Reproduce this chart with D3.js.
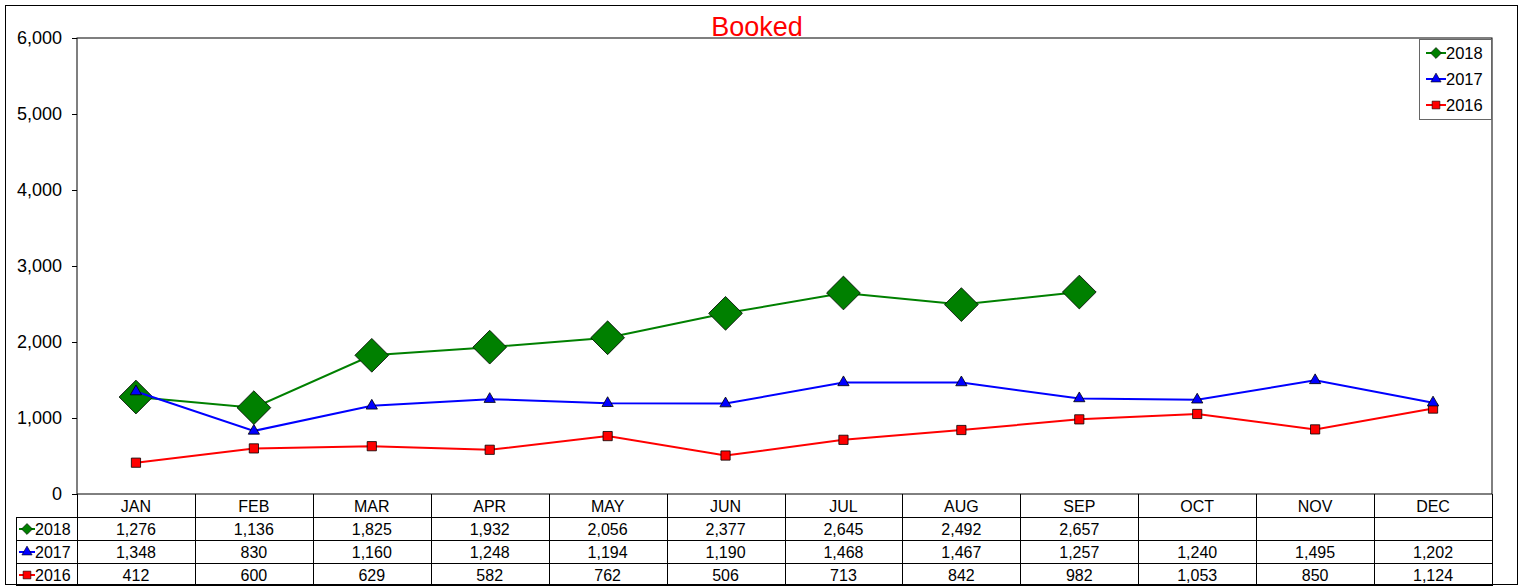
<!DOCTYPE html>
<html>
<head>
<meta charset="utf-8">
<script src="https://cdn.jsdelivr.net/npm/d3@7"></script>
<style>
  body { margin: 0; background: #fff; }
  svg { font-family: "Liberation Sans", Arial, sans-serif; }
</style>
</head>
<body>
<svg id="chart" width="1525" height="586"></svg>
<script>
// data
const months = ["JAN", "FEB", "MAR", "APR", "MAY", "JUN", "JUL", "AUG", "SEP", "OCT", "NOV", "DEC"];
const booked2018 = [1276, 1136, 1825, 1932, 2056, 2377, 2645, 2492, 2657, null, null, null];
const booked2017 = [1348, 830, 1160, 1248, 1194, 1190, 1468, 1467, 1257, 1240, 1495, 1202];
const booked2016 = [412, 600, 629, 582, 762, 506, 713, 842, 982, 1053, 850, 1124];
const yTicks = [0, 1000, 2000, 3000, 4000, 5000, 6000];

// square rotated 45deg, like the Excel diamond marker
const diamond = {
  draw(ctx, size) {
    const r = Math.sqrt(size / 2);
    ctx.moveTo(0, -r);
    ctx.lineTo(r, 0);
    ctx.lineTo(0, r);
    ctx.lineTo(-r, 0);
    ctx.closePath();
  }
};

const series = [
  { name: "2018", values: booked2018, color: "#008000", symbol: diamond, size: 570, mini: 60 },
  { name: "2017", values: booked2017, color: "#0000ff", symbol: d3.symbolTriangle, size: 55, mini: 45 },
  { name: "2016", values: booked2016, color: "#ff0000", symbol: d3.symbolSquare, size: 85, mini: 60 }
];

const svg = d3.select("#chart");
const plotL = 77, plotR = 1492, plotT = 38, plotB = 494;
const rowH = 23;

const x = d3.scaleBand().domain(months).range([plotL, plotR]);
const y = d3.scaleLinear().domain([0, 6000]).range([plotB, plotT]);
const fmt = d3.format(",");

// outer border
svg.append("rect")
  .attr("x", 5.5).attr("y", 5.5).attr("width", 1512).attr("height", 579)
  .attr("fill", "none").attr("stroke", "#000");

// plot area
svg.append("rect")
  .attr("x", plotL).attr("y", plotT).attr("width", plotR - plotL).attr("height", plotB - plotT)
  .attr("fill", "none").attr("stroke", "#000");

// title
svg.append("text")
  .attr("x", 757).attr("y", 36)
  .attr("text-anchor", "middle")
  .attr("font-size", 27)
  .attr("fill", "#ff0000")
  .text("Booked");

// y axis
const yAxis = svg.append("g")
  .attr("transform", `translate(${plotL},0)`)
  .call(d3.axisLeft(y).tickValues(yTicks).tickFormat(fmt).tickSize(5).tickSizeOuter(0));
yAxis.select(".domain").remove();
yAxis.selectAll("line").attr("stroke", "#000");
yAxis.selectAll("text")
  .attr("font-size", 18)
  .attr("fill", "#000")
  .attr("x", -15)
  .attr("font-family", "Liberation Sans, Arial, sans-serif");

// lines and markers
const cx = m => x(m) + x.bandwidth() / 2;
const line = d3.line()
  .defined(d => d.v != null)
  .x(d => cx(d.m))
  .y(d => y(d.v));

// draw back to front: 2016, 2018, 2017 (2017 markers over 2018 in JAN)
const order = [series[2], series[0], series[1]];
order.forEach(s => {
  const pts = months.map((m, i) => ({ m, v: s.values[i] }));
  svg.append("path")
    .datum(pts)
    .attr("fill", "none")
    .attr("stroke", s.color)
    .attr("stroke-width", 2)
    .attr("d", line);
  svg.append("g")
    .selectAll("path")
    .data(pts.filter(d => d.v != null))
    .enter()
    .append("path")
    .attr("transform", d => `translate(${cx(d.m)},${y(d.v)})`)
    .attr("d", d3.symbol().type(s.symbol).size(s.size))
    .attr("fill", s.color)
    .attr("stroke", "#000")
    .attr("stroke-width", 0.8);
});

// legend
const lg = svg.append("g");
lg.append("rect")
  .attr("x", 1419.5).attr("y", 39.5).attr("width", 72).attr("height", 80)
  .attr("fill", "#fff").attr("stroke", "#666");
series.forEach((s, i) => {
  const ly = 53 + i * 26;
  lg.append("line")
    .attr("x1", 1426).attr("x2", 1446).attr("y1", ly).attr("y2", ly)
    .attr("stroke", s.color).attr("stroke-width", 2);
  lg.append("path")
    .attr("transform", `translate(1436,${ly})`)
    .attr("d", d3.symbol().type(s.symbol).size(s.mini))
    .attr("fill", s.color).attr("stroke", "#000").attr("stroke-width", 0.6);
  lg.append("text")
    .attr("x", 1446).attr("y", ly + 6)
    .attr("font-size", 16.5)
    .text(s.name);
});

// data table
const tbl = svg.append("g").attr("stroke", "#000").attr("fill", "none");
const tableBottom = plotB + rowH * 4;
[1, 2, 3].forEach(r => {
  tbl.append("line")
    .attr("x1", 16).attr("x2", plotR)
    .attr("y1", plotB + rowH * r + 0.5).attr("y2", plotB + rowH * r + 0.5);
});
tbl.append("line")
  .attr("x1", 16).attr("x2", plotR)
  .attr("y1", tableBottom - 0.5).attr("y2", tableBottom - 0.5);
tbl.append("line")
  .attr("x1", 16.5).attr("x2", 16.5)
  .attr("y1", plotB + rowH).attr("y2", tableBottom);
months.forEach(m => {
  tbl.append("line")
    .attr("x1", Math.round(x(m)) + 0.5).attr("x2", Math.round(x(m)) + 0.5)
    .attr("y1", plotB).attr("y2", tableBottom);
});
tbl.append("line")
  .attr("x1", plotR + 0.5).attr("x2", plotR + 0.5)
  .attr("y1", plotB).attr("y2", tableBottom);

// month labels
svg.append("g")
  .selectAll("text")
  .data(months)
  .enter()
  .append("text")
  .attr("x", d => cx(d))
  .attr("y", plotB + 18)
  .attr("text-anchor", "middle")
  .attr("font-size", 16)
  .text(d => d);

// row values
series.forEach((s, r) => {
  const ry = plotB + rowH * (r + 1);
  svg.append("line")
    .attr("x1", 19).attr("x2", 35).attr("y1", ry + 12).attr("y2", ry + 12)
    .attr("stroke", s.color).attr("stroke-width", 2);
  svg.append("path")
    .attr("transform", `translate(27,${ry + 12})`)
    .attr("d", d3.symbol().type(s.symbol).size(s.mini))
    .attr("fill", s.color).attr("stroke", "#000").attr("stroke-width", 0.6);
  svg.append("text")
    .attr("x", 35).attr("y", ry + 18)
    .attr("font-size", 16)
    .text(s.name);
  svg.append("g")
    .selectAll("text")
    .data(months.map((m, i) => ({ m, v: s.values[i] })).filter(d => d.v != null))
    .enter()
    .append("text")
    .attr("x", d => cx(d.m))
    .attr("y", ry + 18)
    .attr("text-anchor", "middle")
    .attr("font-size", 16)
    .text(d => fmt(d.v));
});
</script>
</body>
</html>
